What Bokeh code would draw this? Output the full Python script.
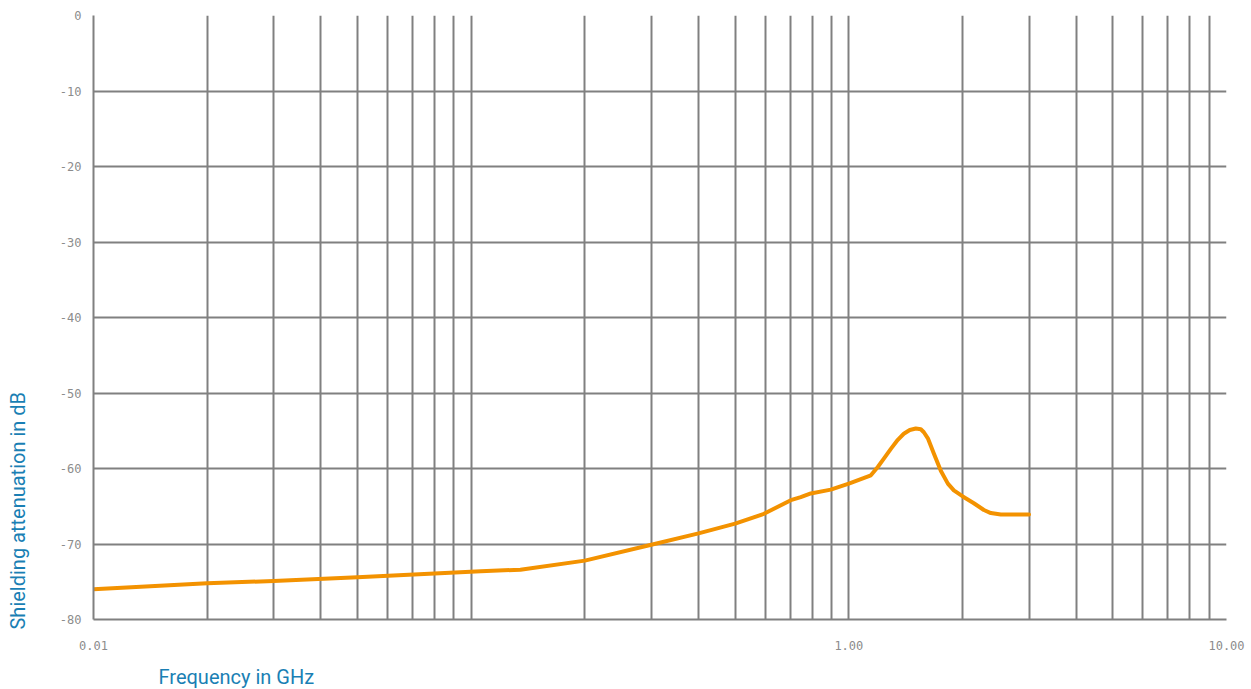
import math
from bokeh.plotting import figure
from bokeh.models import (Range1d, FixedTicker, ColumnDataSource, CustomJSTickFormatter,
                          LinearAxis, LogAxis, Title)
from bokeh.embed import file_html
from bokeh.resources import INLINE

# ---- data ----
freq_ghz = [0.01, 0.02, 0.03, 0.05, 0.106, 0.135, 0.2, 0.3, 0.4, 0.5, 0.596, 0.702,
            0.746, 0.793, 0.896, 1.0, 1.144, 1.193, 1.238, 1.292, 1.348, 1.398,
            1.45, 1.504, 1.551, 1.58, 1.619, 1.679, 1.752, 1.829, 1.897, 2.003,
            2.143, 2.278, 2.377, 2.526, 3.0]
atten_db = [-76.0, -75.2, -74.9, -74.4, -73.6, -73.4, -72.2, -70.1, -68.6, -67.3, -66.0, -64.2,
            -63.8, -63.3, -62.8, -62.0, -60.9, -59.8, -58.7, -57.4, -56.2, -55.4,
            -54.9, -54.7, -54.8, -55.2, -56.0, -58.0, -60.3, -62.0, -62.9, -63.7,
            -64.6, -65.5, -65.9, -66.1, -66.1]

x_tick_values = [0.01, 1.0, 10.0]
x_tick_labels = ["0.01", "1.00", "10.00"]
x_grid_values = [m * 10.0 ** e for e in (-2, -1, 0) for m in range(1, 10)] + [10.0]
y_tick_values = [-80, -70, -60, -50, -40, -30, -20, -10, 0]
x_title = "Frequency in GHz"
y_title = "Shielding attenuation in dB"

GRID = "#808080"
TICK_TXT = "#8c8c8c"
TITLE_COL = "#1a7fb4"
CURVE = "#f39200"

p = figure(width=1251, height=689, x_axis_type="log",
           x_range=Range1d(0.01, 10), y_range=Range1d(-80, 0),
           output_backend="svg", toolbar_location=None,
           min_border_left=93, min_border_right=25, min_border_top=15, min_border_bottom=70)
p.outline_line_color = None
p.background_fill_color = "white"
p.border_fill_color = "white"

# grids
p.xgrid.ticker = FixedTicker(ticks=x_grid_values)
p.ygrid.ticker = FixedTicker(ticks=y_tick_values)
for g in (p.xgrid, p.ygrid):
    g.grid_line_color = GRID
    g.grid_line_width = 2
    g.grid_line_alpha = 1.0

# axes
p.xaxis.ticker = FixedTicker(ticks=x_tick_values)
p.xaxis.formatter = CustomJSTickFormatter(
    args=dict(vals=x_tick_values, labels=x_tick_labels),
    code="for (let i = 0; i < vals.length; i++) { if (Math.abs(vals[i] - tick) < 1e-9) return labels[i]; } return tick.toFixed(2);")
p.yaxis.ticker = FixedTicker(ticks=y_tick_values)
p.yaxis.formatter = CustomJSTickFormatter(code="return String(Math.round(tick));")
for ax in (p.xaxis, p.yaxis):
    ax.axis_line_color = GRID
    ax.axis_line_width = 2
    ax.major_tick_line_color = None
    ax.minor_tick_line_color = None
    ax.major_tick_out = 0
    ax.minor_tick_out = 0
    ax.major_label_text_font = "DejaVu Sans Mono"
    ax.major_label_text_font_size = "12px"
    ax.major_label_text_color = TICK_TXT
p.xaxis.major_label_standoff = 21
p.yaxis.major_label_standoff = 12

src = ColumnDataSource(dict(f=freq_ghz, a=atten_db))
p.line("f", "a", source=src, line_color=CURVE, line_width=4, line_join="round", line_cap="round")

# spacer axes (no ticks, invisible 1px label) that push the titles outward
def spacer(axis_cls, gap):
    return axis_cls(ticker=FixedTicker(ticks=[]), axis_line_color=None,
                    major_tick_out=0, minor_tick_out=0,
                    major_tick_line_color=None, minor_tick_line_color=None,
                    axis_label="\u00a0", axis_label_text_font_size="1px",
                    axis_label_text_alpha=0, axis_label_standoff=gap)

p.add_layout(spacer(LinearAxis, 23), "left")
p.add_layout(spacer(LogAxis, 6), "below")

yt = Title(text=y_title, align="left", offset=-10, standoff=0,
           text_font="Roboto", text_font_size="20px", text_font_style="normal", text_color=TITLE_COL)
xt = Title(text=x_title, align="left", offset=65, standoff=0,
           text_font="Roboto", text_font_size="20px", text_font_style="normal", text_color=TITLE_COL)
p.add_layout(yt, "left")
p.add_layout(xt, "below")

open("out.html", "w").write(file_html(p, INLINE))
